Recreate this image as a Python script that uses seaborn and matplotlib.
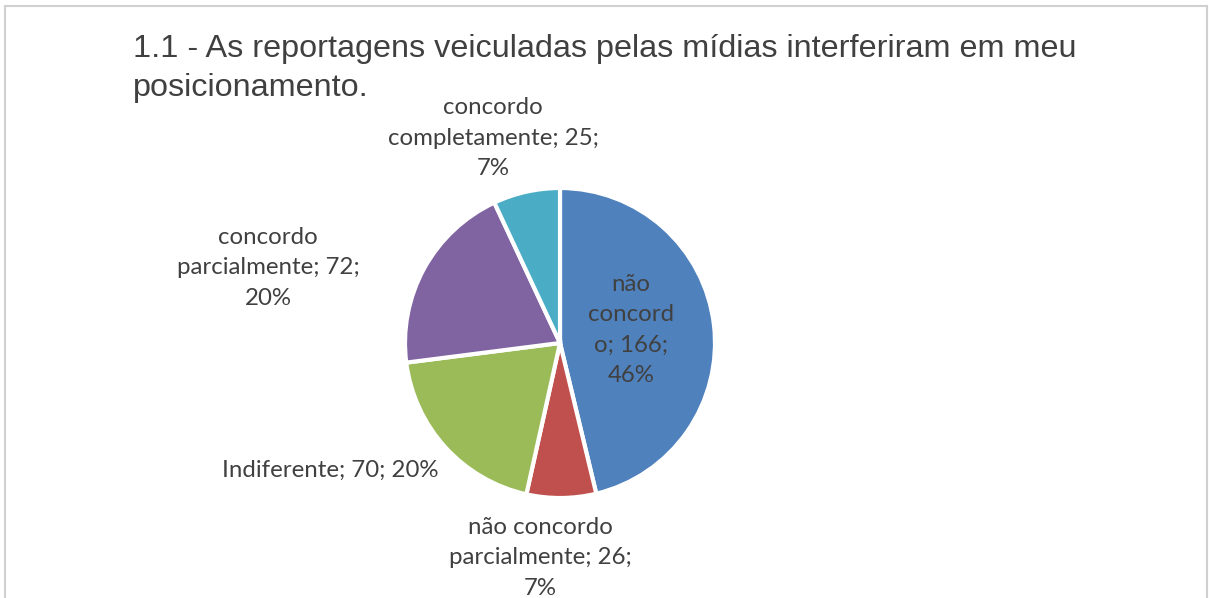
import matplotlib
matplotlib.use("Agg")
import matplotlib.pyplot as plt
import seaborn as sns
from matplotlib.patches import Rectangle

# Dados do gráfico
categorias = ["não concordo", "não concordo parcialmente", "Indiferente",
              "concordo parcialmente", "concordo completamente"]
valores = [166, 26, 70, 72, 25]
percentuais = ["46%", "7%", "20%", "20%", "7%"]
rotulos = ["não\nconcord\no; 166;\n46%",
           "não concordo\nparcialmente; 26;\n7%",
           "Indiferente; 70; 20%",
           "concordo\nparcialmente; 72;\n20%",
           "concordo\ncompletamente; 25;\n7%"]
cores = ["#4F81BD", "#C0504D", "#9BBB59", "#8064A2", "#4BACC6"]
titulo = "1.1 - As reportagens veiculadas pelas mídias interferiram em meu\nposicionamento."

sns.set_theme(style="white")
plt.rcParams['font.family'] = ['Lato', 'DejaVu Sans']

W, H = 1209, 598
fig = plt.figure(figsize=(W / 100, H / 100), dpi=100)

# pie placed by pixel center / radius
cx, cy, r = 560, 343, 155
ax = fig.add_axes([(cx - r) / W, (H - cy - r) / H, 2 * r / W, 2 * r / H])
ax.pie(valores, colors=cores, startangle=90, counterclock=False,
       wedgeprops=dict(edgecolor="white", linewidth=3))
ax.set_xlim(-1, 1)
ax.set_ylim(-1, 1)
ax.axis("off")

# label positions (pixels, center of text block)
pos = [(631, 330), (540, 558), (330, 470), (268, 268), (493, 138)]
for txt, (px, py) in zip(rotulos, pos):
    fig.text(px / W, 1 - py / H, txt, ha="center", va="center",
             fontsize=17.3, color="#404040", linespacing=1.55)

fig.text(133 / W, 1 - 34 / H, titulo, ha="left", va="top",
         fontsize=23.3, color="#404040", family=["Liberation Sans", "DejaVu Sans"],
         linespacing=1.4)

# moldura do gráfico
fig.patches.append(Rectangle((5 / W, -0.05), (1207 - 5) / W, 1.05 - 6 / H,
                             transform=fig.transFigure, fill=False,
                             edgecolor="#D0D0D0", linewidth=1.5))

fig.savefig("out.png", dpi=100)
